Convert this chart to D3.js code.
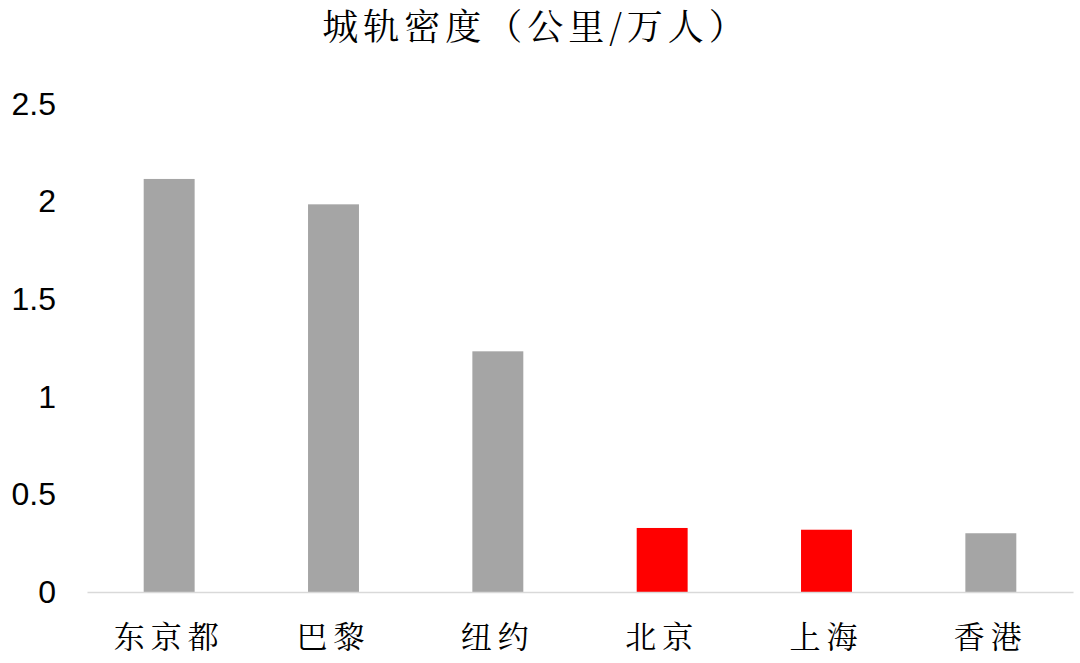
<!DOCTYPE html>
<html><head><meta charset="utf-8">
<script src="https://cdn.jsdelivr.net/npm/d3@7"></script>
<style>
html,body{margin:0;padding:0;background:#fff;}
</style></head>
<body>
<svg id="chart" width="1080" height="663"></svg>
<script>
const categories = ["东京都","巴黎","纽约","北京","上海","香港"];
const values = [2.116, 1.986, 1.233, 0.328, 0.319, 0.301];
const highlight = ["北京","上海"];
const yTicks = [0, 0.5, 1, 1.5, 2, 2.5];
const title = "城轨密度（公里/万人）";

const svg = d3.select("#chart");
const serif = "'Noto Serif CJK SC','Noto Sans CJK SC',serif";
const x = d3.scaleBand().domain(categories).range([87, 1073]).paddingInner(0.69).paddingOuter(0.345);
const y = d3.scaleLinear().domain([0, 2.5]).range([592, 104]);

svg.append("text").attr("x", 536).attr("y", 40).attr("text-anchor","middle")
  .attr("font-family", serif).attr("font-size", 36)
  .attr("letter-spacing", 5).attr("fill","#000").text(title);

const yAxis = svg.append("g").attr("transform","translate(87,0)")
  .call(d3.axisLeft(y).tickValues(yTicks).tickSize(0).tickPadding(31).tickFormat(d3.format("~g")));
yAxis.select(".domain").remove();
yAxis.selectAll("text").attr("font-family","'Liberation Sans',Arial,sans-serif").attr("font-size",32).attr("fill","#000");

svg.selectAll("rect.bar").data(categories).join("rect").attr("class","bar")
  .attr("x", d => x(d)).attr("width", x.bandwidth())
  .attr("y", (d,i) => y(values[i])).attr("height", (d,i) => y(0) - y(values[i]))
  .attr("fill", d => highlight.includes(d) ? "#FF0000" : "#A5A5A5");

const xAxis = svg.append("g").attr("transform", `translate(0,${y(0)})`)
  .call(d3.axisBottom(x).tickSize(0).tickPadding(34));
xAxis.select(".domain").attr("stroke","#D9D9D9").attr("stroke-width",1.5);
xAxis.selectAll("text").attr("font-family", serif).attr("font-size",31).attr("letter-spacing",6).attr("fill","#000");
</script>
</body></html>
